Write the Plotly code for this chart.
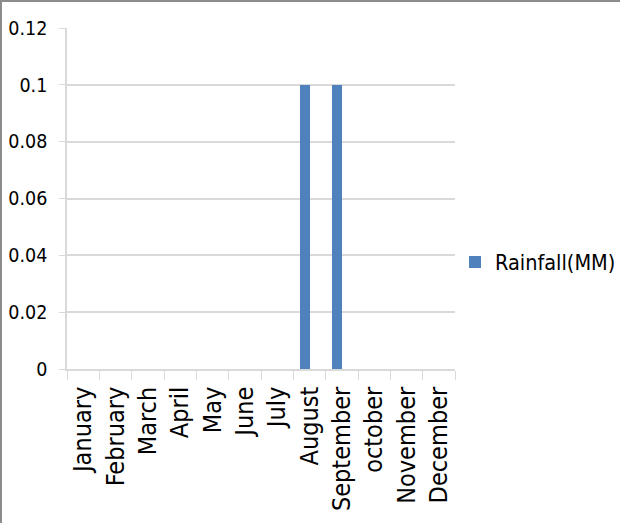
import plotly.graph_objects as go

months = ["January", "February", "March", "April", "May", "June", "July",
          "August", "September", "october", "November", "December"]
rainfall_mm = [0, 0, 0, 0, 0, 0, 0, 0.1, 0.1, 0, 0, 0]
series_name = "Rainfall(MM)"
y_ticks = [0, 0.02, 0.04, 0.06, 0.08, 0.1, 0.12]
y_tick_text = ["0", "0.02", "0.04", "0.06", "0.08", "0.1", "0.12"]

W, H = 620, 523
L, R, T, B = 67, 165, 28, 154
pw, ph = W - L - R, H - T - B

FONT = "Liberation Sans Narrow, DejaVu Sans Condensed, Arial Narrow, sans-serif"

fig = go.Figure()
fig.add_trace(go.Bar(
    x=months, y=rainfall_mm, name=series_name,
    marker=dict(color="#4f81bd", line=dict(width=0)),
    width=0.29, offset=-0.29,
))


def px_x(p):
    return (p - L) / pw


def px_y(p):
    return (H - B - p) / ph


fig.update_layout(
    width=W, height=H,
    margin=dict(l=L, r=R, t=T, b=B, autoexpand=False),
    paper_bgcolor="white", plot_bgcolor="white",
    font=dict(family=FONT, color="#000000"),
    showlegend=True,
    legend=dict(x=px_x(455), y=px_y(262), xanchor="left", yanchor="middle",
                font=dict(size=21.5, family=FONT), bgcolor="rgba(0,0,0,0)"),
    bargap=0,
    xaxis=dict(
        type="category", tickangle=-90, tickfont=dict(size=25, family=FONT),
        ticks="outside", tickson="boundaries", ticklen=9, tickcolor="#d9d9d9",
        ticklabelstandoff=6,
        showline=True, linecolor="#d9d9d9", linewidth=1.5, showgrid=False,
    ),
    yaxis=dict(
        range=[0, 0.12], tickvals=y_ticks, ticktext=y_tick_text,
        tickfont=dict(size=19.5, family=FONT),
        ticks="outside", ticklen=6, tickcolor="#d9d9d9",
        ticklabelstandoff=8,
        showgrid=True, gridcolor="#d9d9d9", gridwidth=1.5,
        showline=True, linecolor="#d9d9d9", linewidth=1.5,
        zeroline=False,
    ),
    shapes=[
        dict(type="line", xref="paper", yref="paper",
             x0=px_x(0), x1=px_x(W), y0=px_y(1), y1=px_y(1),
             line=dict(color="#8c8c8c", width=2)),
        dict(type="line", xref="paper", yref="paper",
             x0=px_x(1), x1=px_x(1), y0=px_y(0), y1=px_y(H),
             line=dict(color="#8c8c8c", width=2)),
    ],
)

fig.write_html("out.html")
